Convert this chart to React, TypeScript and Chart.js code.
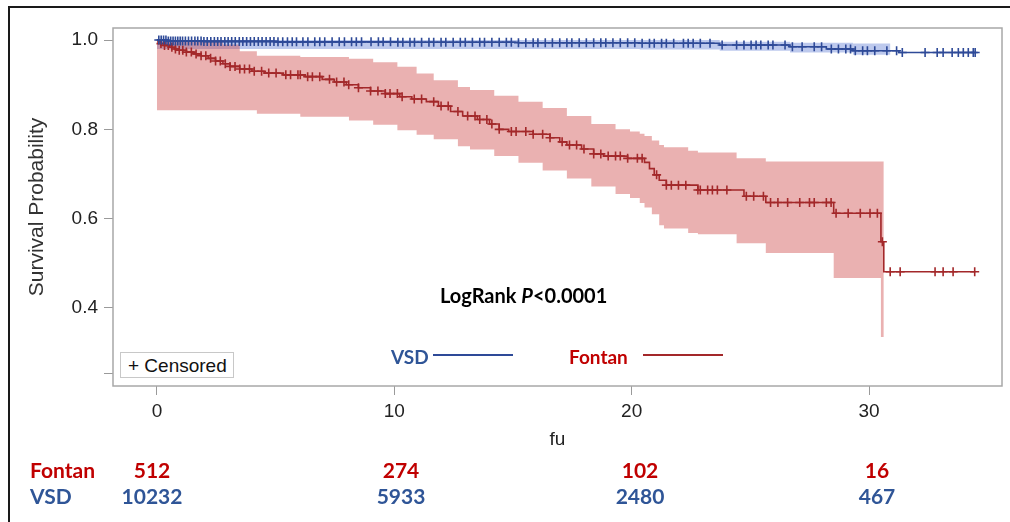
import React, { useEffect, useRef } from 'react';
import { Chart, registerables } from 'chart.js';

Chart.register(...registerables);

// ---------- data ----------
const xTickValues = [0, 10, 20, 30];
const yTickValues = [0.254, 0.4, 0.6, 0.8, 1.0];
const yTickLabels = ['', '0.4', '0.6', '0.8', '1.0'];

const fontanTime = [0, 0.05, 0.17, 0.32, 0.53, 0.73, 0.94, 1.24, 1.55, 1.86, 2.16, 2.47, 2.78, 3.08, 3.49, 4.0, 4.51, 5.33, 6.25, 6.96, 7.47, 7.98, 8.49, 9.0, 9.62, 10.23, 10.74, 11.35, 11.86, 12.37, 12.88, 13.5, 14.01, 14.42, 14.82, 15.85, 16.56, 16.97, 17.27, 17.89, 18.4, 18.81, 19.83, 20.54, 20.75, 20.95, 21.16, 21.46, 22.79, 24.73, 25.65, 28.51, 30.5, 30.62, 34.47];
const fontanSurv = [1.0, 0.996, 0.992, 0.988, 0.984, 0.98, 0.977, 0.973, 0.969, 0.965, 0.959, 0.953, 0.947, 0.941, 0.935, 0.93, 0.926, 0.922, 0.918, 0.912, 0.906, 0.9, 0.893, 0.886, 0.88, 0.873, 0.868, 0.862, 0.852, 0.84, 0.83, 0.822, 0.812, 0.8, 0.795, 0.789, 0.781, 0.772, 0.765, 0.756, 0.745, 0.74, 0.735, 0.726, 0.712, 0.698, 0.686, 0.675, 0.664, 0.65, 0.636, 0.612, 0.548, 0.481, 0.481];

const fontanCITime = [0, 2.78, 3.49, 4.21, 6.04, 8.09, 9.11, 10.13, 10.94, 11.66, 12.68, 13.19, 14.21, 15.23, 16.25, 17.27, 18.3, 19.32, 19.93, 20.34, 20.54, 20.85, 21.16, 21.36, 22.38, 22.79, 24.42, 25.65, 28.51, 30.5, 30.62];
const fontanUpper = [1.0, 0.99, 0.975, 0.965, 0.962, 0.958, 0.95, 0.94, 0.925, 0.91, 0.895, 0.888, 0.875, 0.862, 0.848, 0.83, 0.812, 0.8, 0.795, 0.79, 0.785, 0.775, 0.765, 0.76, 0.752, 0.748, 0.735, 0.728, 0.728, 0.728, 0.728];
const fontanLower = [0.843, 0.843, 0.843, 0.835, 0.828, 0.82, 0.81, 0.798, 0.788, 0.778, 0.762, 0.755, 0.74, 0.725, 0.708, 0.69, 0.672, 0.655, 0.646, 0.635, 0.625, 0.61, 0.585, 0.578, 0.568, 0.565, 0.545, 0.523, 0.467, 0.335, 0.335];

const fontanCensor = [0.17, 0.32, 0.48, 0.63, 0.78, 0.94, 1.09, 1.24, 1.45, 1.65, 1.86, 2.06, 2.26, 2.47, 2.67, 2.88, 3.08, 3.29, 3.49, 3.69, 3.9, 4.1, 4.41, 4.71, 5.02, 5.43, 5.63, 5.94, 6.04, 6.35, 6.55, 6.86, 7.27, 7.57, 7.88, 8.08, 8.49, 9.0, 9.31, 9.62, 9.82, 10.13, 10.33, 10.84, 11.15, 11.66, 11.97, 12.27, 12.68, 13.09, 13.4, 13.6, 13.9, 14.11, 14.42, 14.93, 15.13, 15.54, 15.85, 16.25, 16.56, 17.07, 17.38, 17.68, 17.99, 18.4, 18.7, 19.01, 19.32, 19.52, 19.83, 20.24, 20.44, 21.05, 21.46, 21.67, 21.97, 22.28, 22.79, 22.89, 23.2, 23.4, 23.61, 24.01, 24.83, 25.14, 25.55, 25.85, 26.16, 26.57, 27.08, 27.49, 27.69, 28.2, 28.4, 28.61, 29.12, 29.63, 30.04, 30.35, 30.56, 30.89, 31.31, 32.78, 33.12, 33.54, 34.45];

const vsdTime = [0, 0.43, 1.96, 5.02, 10.13, 15.23, 20.34, 23.71, 26.67, 28.2, 29.32, 31.26, 34.48];
const vsdSurv = [1.0, 0.998, 0.997, 0.996, 0.995, 0.994, 0.993, 0.989, 0.985, 0.98, 0.976, 0.972, 0.972];

const vsdCITime = [0, 20.34, 23.71, 26.67, 29.32, 30.9];
const vsdUpper = [1.0, 1.0, 0.996, 0.994, 0.992, 0.992];
const vsdLower = [0.98, 0.979, 0.976, 0.972, 0.967, 0.967];

const vsdCensor = [0.08, 0.18, 0.28, 0.38, 0.48, 0.58, 0.68, 0.78, 0.88, 0.98, 1.08, 1.2, 1.33, 1.46, 1.6, 1.72, 1.86, 1.98, 2.12, 2.27, 2.42, 2.56, 2.7, 2.86, 3.0, 3.15, 3.3, 3.47, 3.62, 3.78, 3.94, 4.1, 4.27, 4.43, 4.6, 4.77, 4.93, 5.1, 5.3, 5.5, 5.7, 5.88, 6.15, 6.36, 6.65, 6.86, 7.07, 7.38, 7.68, 7.9, 8.2, 8.4, 8.62, 9.02, 9.33, 9.53, 9.84, 10.15, 10.36, 10.66, 10.85, 11.15, 11.46, 11.66, 11.97, 12.17, 12.48, 12.78, 12.99, 13.29, 13.6, 13.8, 14.11, 14.42, 14.72, 14.93, 15.23, 15.54, 15.85, 16.05, 16.36, 16.66, 16.97, 17.27, 17.48, 17.79, 18.09, 18.4, 18.7, 18.91, 19.21, 19.52, 19.83, 20.13, 20.44, 20.75, 20.95, 21.26, 21.46, 21.77, 22.18, 22.38, 22.59, 22.89, 23.3, 23.81, 24.42, 24.73, 25.03, 25.24, 25.44, 25.75, 25.95, 26.46, 26.77, 27.18, 27.69, 28.0, 28.41, 28.71, 29.02, 29.22, 29.42, 29.73, 29.93, 30.24, 30.75, 31.16, 31.4, 32.36, 32.87, 33.12, 33.5, 33.76, 33.97, 34.18, 34.39, 34.47];

const riskGroups = ['Fontan', 'VSD'];
const fontanAtRisk = [512, 274, 102, 16];
const vsdAtRisk = [10232, 5933, 2480, 467];

// ---------- layout / style ----------
const RED = '#A3282A';
const BLUE = '#2E4A98';
const RED_TXT = '#C00000';
const BLUE_TXT = '#2F5597';
const riskColX = [152, 401, 640, 877];

const pts = (xs: number[], ys: number[]) => xs.map((x, i) => ({ x, y: ys[i] }));
const survAt = (xs: number[], ys: number[], t: number) => {
  let v = ys[0];
  for (let i = 0; i < xs.length; i++) if (xs[i] <= t) v = ys[i];
  return v;
};

const framePlugin = {
  id: 'frame',
  afterDatasetsDraw(chart: any) {
    const { ctx, chartArea } = chart;
    const { left, top, right, bottom } = chartArea;
    ctx.save();
    ctx.strokeStyle = '#A8A8A8';
    ctx.lineWidth = 1.5;
    ctx.strokeRect(left, top, right - left, bottom - top);
    ctx.restore();
  },
};

export default function App() {
  const ref = useRef<HTMLCanvasElement>(null);

  useEffect(() => {
    document.body.style.margin = '0';
    const tickFont = { family: "'Liberation Sans', Arial, sans-serif", size: 19 };
    const chart = new Chart(ref.current as HTMLCanvasElement, {
      type: 'line',
      data: {
        datasets: [
          {
            data: pts(vsdCITime, vsdUpper), fill: '+1', backgroundColor: 'rgba(90,120,210,0.40)',
            borderWidth: 0, borderColor: 'rgba(0,0,0,0)', pointRadius: 0, stepped: 'before', order: 10,
          },
          {
            data: pts(vsdCITime, vsdLower), fill: false, borderWidth: 0, borderColor: 'rgba(0,0,0,0)',
            pointRadius: 0, stepped: 'before', order: 10,
          },
          {
            data: pts(fontanCITime, fontanUpper), fill: '+1', backgroundColor: 'rgba(205,70,70,0.42)',
            borderWidth: 0, borderColor: 'rgba(0,0,0,0)', pointRadius: 0, stepped: 'before', order: 9,
          },
          {
            data: pts(fontanCITime, fontanLower), fill: false, borderWidth: 0, borderColor: 'rgba(0,0,0,0)',
            pointRadius: 0, stepped: 'before', order: 9,
          },
          {
            label: 'Fontan', data: pts(fontanTime, fontanSurv), borderColor: RED, borderWidth: 1.6,
            pointRadius: 0, stepped: 'before', fill: false, order: 5,
          },
          {
            label: 'VSD', data: pts(vsdTime, vsdSurv), borderColor: BLUE, borderWidth: 1.6,
            pointRadius: 0, stepped: 'before', fill: false, order: 4,
          },
          {
            data: fontanCensor.map((t) => ({ x: t, y: survAt(fontanTime, fontanSurv, t) })),
            showLine: false, pointStyle: 'cross', pointRadius: 4.5, pointBorderWidth: 1.6,
            pointBorderColor: RED, borderColor: RED, order: 2,
          },
          {
            data: vsdCensor.map((t) => ({ x: t, y: survAt(vsdTime, vsdSurv, t) })),
            showLine: false, pointStyle: 'cross', pointRadius: 4.5, pointBorderWidth: 1.6,
            pointBorderColor: BLUE, borderColor: BLUE, order: 1,
          },
        ] as any,
      },
      options: {
        responsive: false,
        maintainAspectRatio: false,
        animation: false,
        devicePixelRatio: 1,
        layout: { padding: { left: 0, top: 28, right: 8, bottom: 62 } },
        plugins: { legend: { display: false }, tooltip: { enabled: false } },
        scales: {
          x: {
            type: 'linear',
            min: -1.85,
            max: 35.6,
            afterBuildTicks: (s: any) => { s.ticks = xTickValues.map((v) => ({ value: v })); },
            afterFit: (s: any) => { s.height = 74; },
            ticks: { font: tickFont, color: '#222', padding: 5, maxRotation: 0, autoSkip: false },
            grid: { drawOnChartArea: false, drawTicks: true, tickLength: 9, color: '#9A9A9A' },
            border: { display: false },
            title: { display: true, text: 'fu', font: tickFont, color: '#222', padding: { top: 0, bottom: 9 } },
          },
          y: {
            type: 'linear',
            min: 0.225,
            max: 1.027,
            afterBuildTicks: (s: any) => { s.ticks = yTickValues.map((v) => ({ value: v })); },
            afterFit: (s: any) => { s.width = 113; },
            ticks: {
              font: tickFont, color: '#222', padding: 6, autoSkip: false,
              callback: (_v: any, i: number) => yTickLabels[i],
            },
            grid: { drawOnChartArea: false, drawTicks: true, tickLength: 9, color: '#9A9A9A' },
            border: { display: false },
            title: {
              display: true, text: 'Survival Probability',
              font: { family: "'Liberation Sans', Arial, sans-serif", size: 21 }, color: '#333',
              padding: { top: 25, bottom: 0 },
            },
          },
        },
      } as any,
      plugins: [framePlugin],
    });
    return () => chart.destroy();
  }, []);

  const calibri = "Lato, 'Open Sans', sans-serif";
  const abs = (extra: React.CSSProperties): React.CSSProperties => ({ position: 'absolute', whiteSpace: 'nowrap', ...extra });

  return (
    <div style={{ position: 'relative', width: 1010, height: 522, background: '#fff', overflow: 'hidden' }}>
      <canvas ref={ref} width={1010} height={522} style={{ position: 'absolute', left: 0, top: 0, width: 1010, height: 522 }} />
      {/* outer black frame */}
      <div style={abs({ left: 8, top: 6, width: 1002, height: 2, background: '#1a1a1a' })} />
      <div style={abs({ left: 8, top: 6, width: 2, height: 516, background: '#1a1a1a' })} />

      {/* annotation */}
      <div style={abs({ left: 440, top: 285, font: `700 20px ${calibri}`, lineHeight: '20px', color: '#000' })}>
        LogRank <i>P</i>&lt;0.0001
      </div>

      {/* legend */}
      <div style={abs({ left: 391, top: 347, font: `700 19px ${calibri}`, lineHeight: '20px', color: BLUE_TXT })}>VSD</div>
      <div style={abs({ left: 433, top: 354, width: 80, height: 2, background: BLUE })} />
      <div style={abs({ left: 569, top: 347, font: `700 19px ${calibri}`, lineHeight: '20px', color: RED_TXT })}>Fontan</div>
      <div style={abs({ left: 643, top: 354, width: 80, height: 2, background: RED })} />

      {/* censored box */}
      <div style={abs({ left: 120, top: 352, width: 114, height: 26, border: '1px solid #C8C8C8', background: '#fff',
        font: "19px 'Liberation Sans', Arial, sans-serif", lineHeight: '26px', color: '#111', paddingLeft: 7, boxSizing: 'border-box' })}>
        + Censored
      </div>

      {/* number at risk table */}
      <div style={abs({ left: 30, top: 459, font: `700 21px ${calibri}`, lineHeight: '22px', color: RED_TXT })}>{riskGroups[0]}</div>
      <div style={abs({ left: 30, top: 485, font: `700 21px ${calibri}`, lineHeight: '22px', color: BLUE_TXT })}>{riskGroups[1]}</div>
      {fontanAtRisk.map((n, i) => (
        <div key={'f' + i} style={abs({ left: riskColX[i], top: 459, transform: 'translateX(-50%)', font: `700 21px ${calibri}`, lineHeight: '22px', color: RED_TXT })}>{n}</div>
      ))}
      {vsdAtRisk.map((n, i) => (
        <div key={'v' + i} style={abs({ left: riskColX[i], top: 485, transform: 'translateX(-50%)', font: `700 21px ${calibri}`, lineHeight: '22px', color: BLUE_TXT })}>{n}</div>
      ))}
    </div>
  );
}
